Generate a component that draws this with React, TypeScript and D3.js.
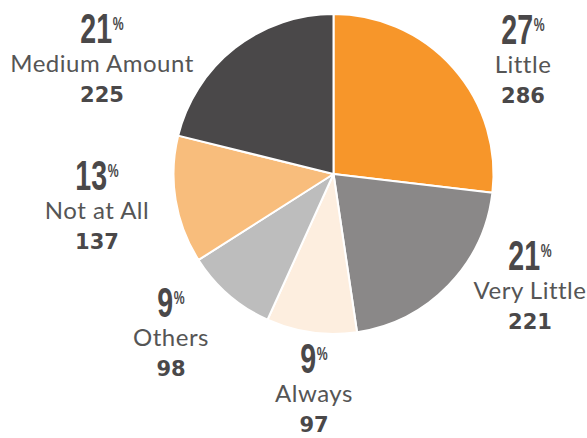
import React from "react";
import * as d3 from "d3";

const categories = ["Little", "Very Little", "Always", "Others", "Not at All", "Medium Amount"];
const counts = [286, 221, 97, 98, 137, 225];
const colors = ["#F7962A", "#8A8888", "#FDEEDF", "#BDBDBD", "#F8BD7C", "#4A4849"];

// label anchor layout (center x, baseline of percentage) per category
const labelLayout: Record<string, [number, number]> = {
  "Little": [523, 44],
  "Very Little": [530, 270],
  "Always": [314, 373],
  "Others": [171, 317],
  "Not at All": [97, 190],
  "Medium Amount": [102, 43],
};

const W = 587;
const H = 438;
const CX = 333.5;
const CY = 174;
const R = 160;

export default function App() {
  const data = categories.map((c, i) => ({ name: c, value: counts[i], color: colors[i] }));
  const total = d3.sum(counts);
  const pie = d3.pie<any>().sort(null).value((d: any) => d.value);
  const arcs = pie(data);
  const arc = d3.arc<any>().innerRadius(0).outerRadius(R);
  const fmt = d3.format(".0f");

  return (
    <svg width={W} height={H} style={{ position: "absolute", left: 0, top: 0, background: "#fff" }}>
      <g transform={`translate(${CX},${CY})`}>
        {arcs.map((a, i) => (
          <path key={i} d={arc(a) as string} fill={a.data.color} stroke="#fff" strokeWidth={2} strokeLinejoin="round" />
        ))}
      </g>
      {data.map((d, i) => {
        const [x, y] = labelLayout[d.name];
        const pct = fmt((d.value / total) * 100);
        return (
          <g key={i}>
            <g transform={`translate(${x},${y}) scale(0.68,1)`}>
              <text textAnchor="middle" fill="#4A4849" fontFamily="Liberation Sans, Arial, sans-serif" fontWeight="bold">
                <tspan fontSize={42}>{pct}</tspan>
                <tspan fontSize={18} dx={1} dy={-13}>%</tspan>
              </text>
            </g>
            <text x={x} y={y + 29} textAnchor="middle" fill="#555" fontFamily="Lato, sans-serif" fontSize={24} letterSpacing={0.5}>
              {d.name}
            </text>
            <text x={x} y={y + 59} textAnchor="middle" fill="#4A4849" fontFamily="DejaVu Sans, sans-serif" fontWeight="bold" fontSize={21}>
              {d.value}
            </text>
          </g>
        );
      })}
    </svg>
  );
}
